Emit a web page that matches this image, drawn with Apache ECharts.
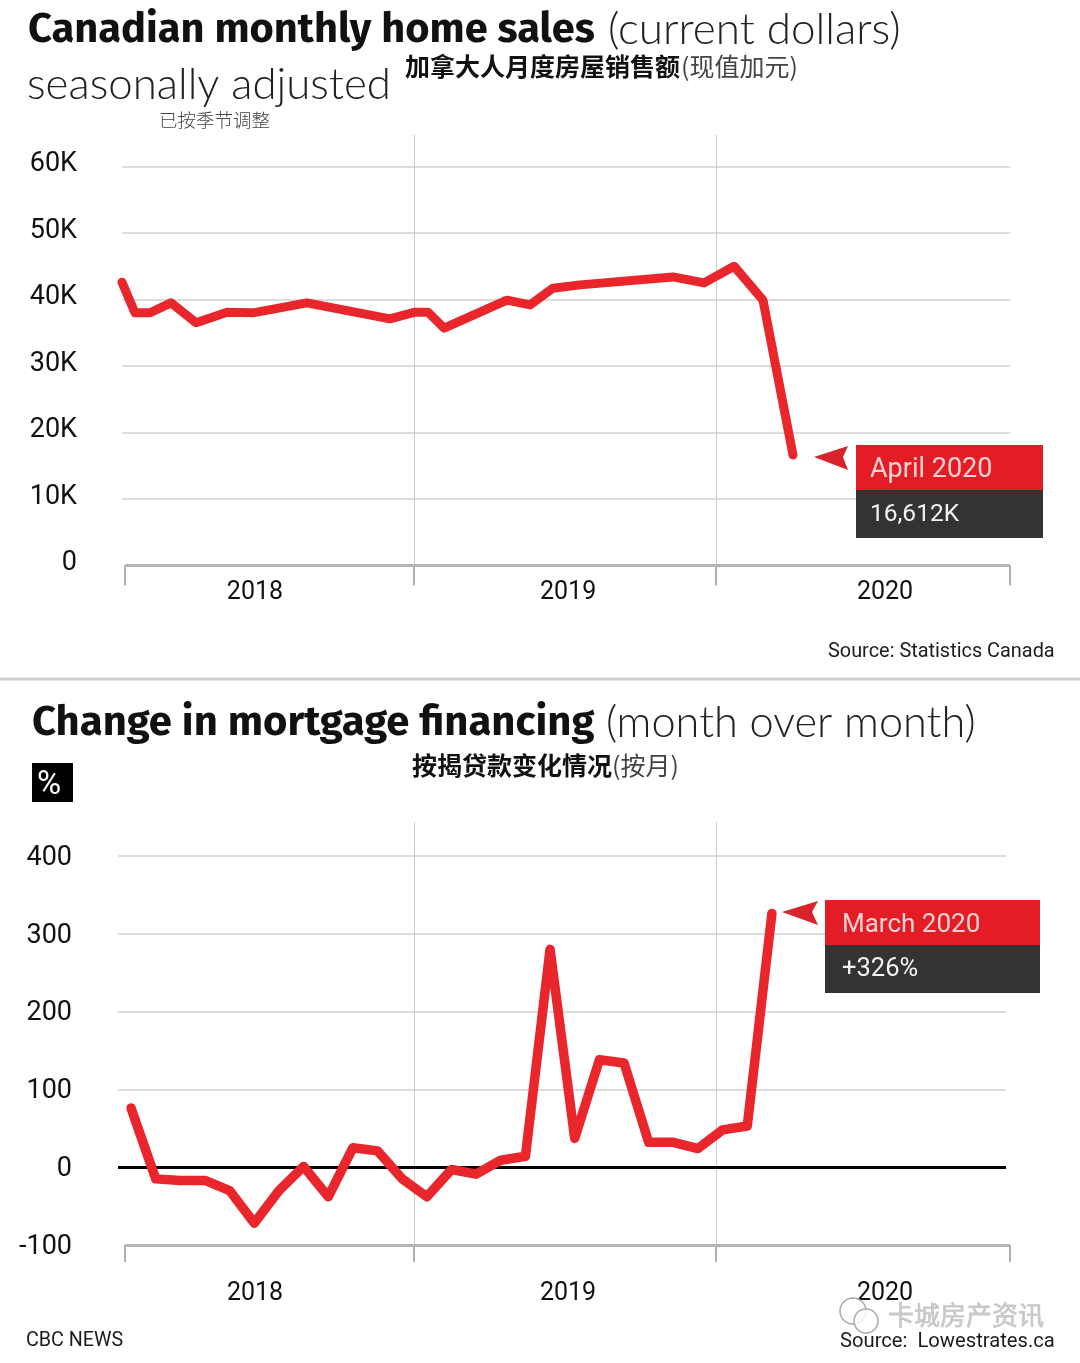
<!DOCTYPE html>
<html><head><meta charset="utf-8">
<style>html,body{margin:0;padding:0;background:#fff}#c{width:1080px;height:1363px}</style>
<script src="https://cdn.jsdelivr.net/npm/echarts@6/dist/echarts.min.js"></script>
</head><body><div id="c"></div>
<script>
// ---- data ----
const homeMonths = [0,0.52,1.13,1.97,2.98,4.23,5.27,7.44,10.78,11.79,12.31,12.96,15.49,16.42,17.34,18.43,22.17,23.42,24.63,25.79,27];
const homeSales  = [42.6,38.0,38.0,39.5,36.5,38.1,38.0,39.5,37.1,38.1,38.1,35.7,39.9,39.2,41.7,42.2,43.4,42.5,45.0,39.9,16.612];
const mortgageChange = [76,-15,-17,-17,-30,-72,-30,1,-38,25,21,-15,-38,-3,-9,9,14,280,37,138,134,32,32,24,48,53,326];
const homeTicks = [0,10,20,30,40,50,60];
const mortTicks = [-100,0,100,200,300,400];
const mortGridLines = [100,200,300,400];
const yearLabels = ['2018','2019','2020'];
const homeYearCentres = [5.35,17.95,30.7];
const mortYearCentres = [5.03,17.73,30.59];
const homeYearEdges = [0.12,11.75,23.9,35.73];
const mortYearEdges = [-0.24,11.48,23.73,35.66];

const RED='#e8262b', DARK='#333333', LAB='#111111';
const FONT='Roboto, sans-serif';
const zip=(a,b)=>a.map((v,i)=>[v,b[i]]);
const T=(x,y,text,o)=>({type:'text',x,y,z:20,silent:true,style:Object.assign({x:0,y:0,text,fontFamily:FONT,fontSize:26,fill:LAB,textVerticalAlign:'middle',verticalAlign:'middle'},o||{})});
const R=(x,y,w,h,fill)=>({type:'rect',z:15,silent:true,shape:{x,y,width:w,height:h},style:{fill}});
const Arrow=pts=>({type:'polygon',z:15,silent:true,shape:{points:pts},style:{fill:'#d9232b'}});
const CJK='"Noto Sans CJK SC", sans-serif', HEAD='"Fira Sans","Noto Sans",sans-serif';

const grayLine={color:'#b5b5b5',width:3,type:'solid'};
const vLine={color:'#cccccc',width:1,type:'solid'};
const gridStyle={color:'#dcdcdc',width:2,type:'solid'};

function yAxis(idx,ticks,min,max,margin,fmt,vAlign,lh,split){
  return {type:'value',gridIndex:idx,min,max,
    axisLine:{show:false},
    axisTick:{show:false,customValues:ticks},
    axisLabel:{customValues:ticks,margin,fontFamily:FONT,fontSize:27,color:LAB,formatter:fmt,verticalAlign:vAlign,lineHeight:lh},
    splitLine:{show:split,showMinLine:false,lineStyle:gridStyle}};
}
function xAxis(idx,min,max,edges,centres,len,margin){
  return {type:'value',gridIndex:idx,min,max,position:'bottom',
    axisLine:{show:false,onZero:false},
    axisTick:{show:true,length:len,customValues:edges,lineStyle:{color:'#b0b0b0',width:2}},
    axisLabel:{customValues:centres,margin,fontFamily:FONT,fontSize:25,color:LAB,showMinLabel:true,showMaxLabel:true,
      formatter:v=>{const i=centres.findIndex(c=>Math.abs(c-v)<0.01);return i>=0?yearLabels[i]:'';}},
    splitLine:{show:false}};
}
const chart=echarts.init(document.getElementById('c'),null,{renderer:'canvas'});
chart.setOption({
  animation:false,backgroundColor:'#fff',
  grid:[{left:122,width:888,top:135,height:430.5},{left:118,width:892,top:822,height:423}],
  xAxis:[xAxis(0,0,35.73,homeYearEdges,homeYearCentres,20,15),
         xAxis(1,-0.53,35.66,mortYearEdges,mortYearCentres,17,36)],
  yAxis:[yAxis(0,homeTicks,0,64.74,45,v=>v===0?'0':v+'K','bottom',4,true),
         yAxis(1,mortTicks,-100,443.7,46,v=>String(v),'top',4,false)],
  series:[
   {type:'line',xAxisIndex:0,yAxisIndex:0,data:zip(homeMonths,homeSales),clip:false,z:5,showSymbol:false,symbol:'none',
    lineStyle:{color:RED,width:9,cap:'round',join:'round'},
    markLine:{silent:true,z:1,symbol:'none',label:{show:false},animation:false,data:[
      {xAxis:homeYearEdges[1],lineStyle:vLine},{xAxis:homeYearEdges[2],lineStyle:vLine},
      [{coord:[homeYearEdges[0],0],lineStyle:grayLine},{coord:[homeYearEdges[3],0]}]]}},
   {type:'line',xAxisIndex:1,yAxisIndex:1,data:mortgageChange.map((v,i)=>[i,v]),clip:false,z:5,showSymbol:false,symbol:'none',
    lineStyle:{color:RED,width:9.5,cap:'round',join:'round'},
    markLine:{silent:true,z:1,symbol:'none',label:{show:false},animation:false,data:[
      ...mortGridLines.map(v=>[{coord:[-0.53,v],lineStyle:gridStyle},{coord:[35.5,v]}]),
      {xAxis:mortYearEdges[1],lineStyle:vLine},{xAxis:mortYearEdges[2],lineStyle:vLine},
      [{coord:[-0.53,0],lineStyle:{color:'#000',width:3,type:'solid'}},{coord:[35.5,0]}],
      [{coord:[mortYearEdges[0],-100],lineStyle:grayLine},{coord:[mortYearEdges[3],-100]}]]}}
  ],
  graphic:[
   T(28,30,'Canadian monthly home sales',{fontFamily:HEAD,fontWeight:700,fontSize:41.6,fill:'#111'}),
   T(608,30,'(current dollars)',{fontFamily:'Lato, sans-serif',fontWeight:300,fontSize:44,fill:'#222'}),
   T(27,85,'seasonally adjusted',{fontFamily:'Lato, sans-serif',fontWeight:300,fontSize:43.8,fill:'#222'}),
   T(405,66,'加拿大人月度房屋销售额',{fontFamily:CJK,fontWeight:700,fontSize:25,fill:'#111'}),
   T(681,66,'(现值加元)',{fontFamily:CJK,fontWeight:400,fontSize:25,fill:'#444'}),
   T(159,120,'已按季节调整',{fontFamily:CJK,fontWeight:300,fontSize:18.5,fill:'#444'}),
   T(828,652,'Source: Statistics Canada',{fontSize:19.9,fill:'#1c1c1c'}),
   R(0,677.5,1080,3,'#cfcfcf'),
   T(32,723,'Change in mortgage financing',{fontFamily:HEAD,fontWeight:700,fontSize:41.8,fill:'#111'}),
   T(606,723,'(month over month)',{fontFamily:'Lato, sans-serif',fontWeight:300,fontSize:43.3,fill:'#222'}),
   T(412,765,'按揭贷款变化情况',{fontFamily:CJK,fontWeight:700,fontSize:25,fill:'#111'}),
   T(612,765,'(按月)',{fontFamily:CJK,fontWeight:400,fontSize:25,fill:'#444'}),
   R(32,763,41,39,'#000'),
   T(37,786,'%',{fontSize:33,fill:'#fff'}),
   R(856,445,187,45,'#e31c25'),R(856,490,187,48,DARK),
   T(870,470,'April 2020',{fontSize:27,fill:'#f8d4d4'}),
   T(870,515,'16,612K',{fontSize:24.5,fill:'#f2f2f2'}),
   Arrow([[814,457],[848,446],[843,457],[848,470]]),
   R(825,900,215,45,'#e31c25'),R(825,945,215,48,DARK),
   T(842,925,'March 2020',{fontSize:26,fill:'#f8d4d4'}),
   T(842,970,'+326%',{fontSize:25.5,fill:'#f2f2f2'}),
   Arrow([[782,912],[818,901],[812,912],[818,925]]),
   T(26,1341,'CBC NEWS',{fontSize:19.7,fill:'#1c1c1c'}),
   T(840,1342,'Source:  Lowestrates.ca',{fontSize:20.2,fill:'#1c1c1c'}),
   {type:'circle',z:16,silent:true,shape:{cx:853,cy:1311,r:13},style:{fill:'none',stroke:'#aaa',lineWidth:1.5}},
   {type:'circle',z:16,silent:true,shape:{cx:866,cy:1321,r:12},style:{fill:'rgba(255,255,255,0.8)',stroke:'#aaa',lineWidth:1.5}},
   T(888,1315,'卡城房产资讯',{fontFamily:CJK,fontSize:26,fill:'#c9c9c9',stroke:'#999',lineWidth:0.4})
  ]
});
</script></body></html>
